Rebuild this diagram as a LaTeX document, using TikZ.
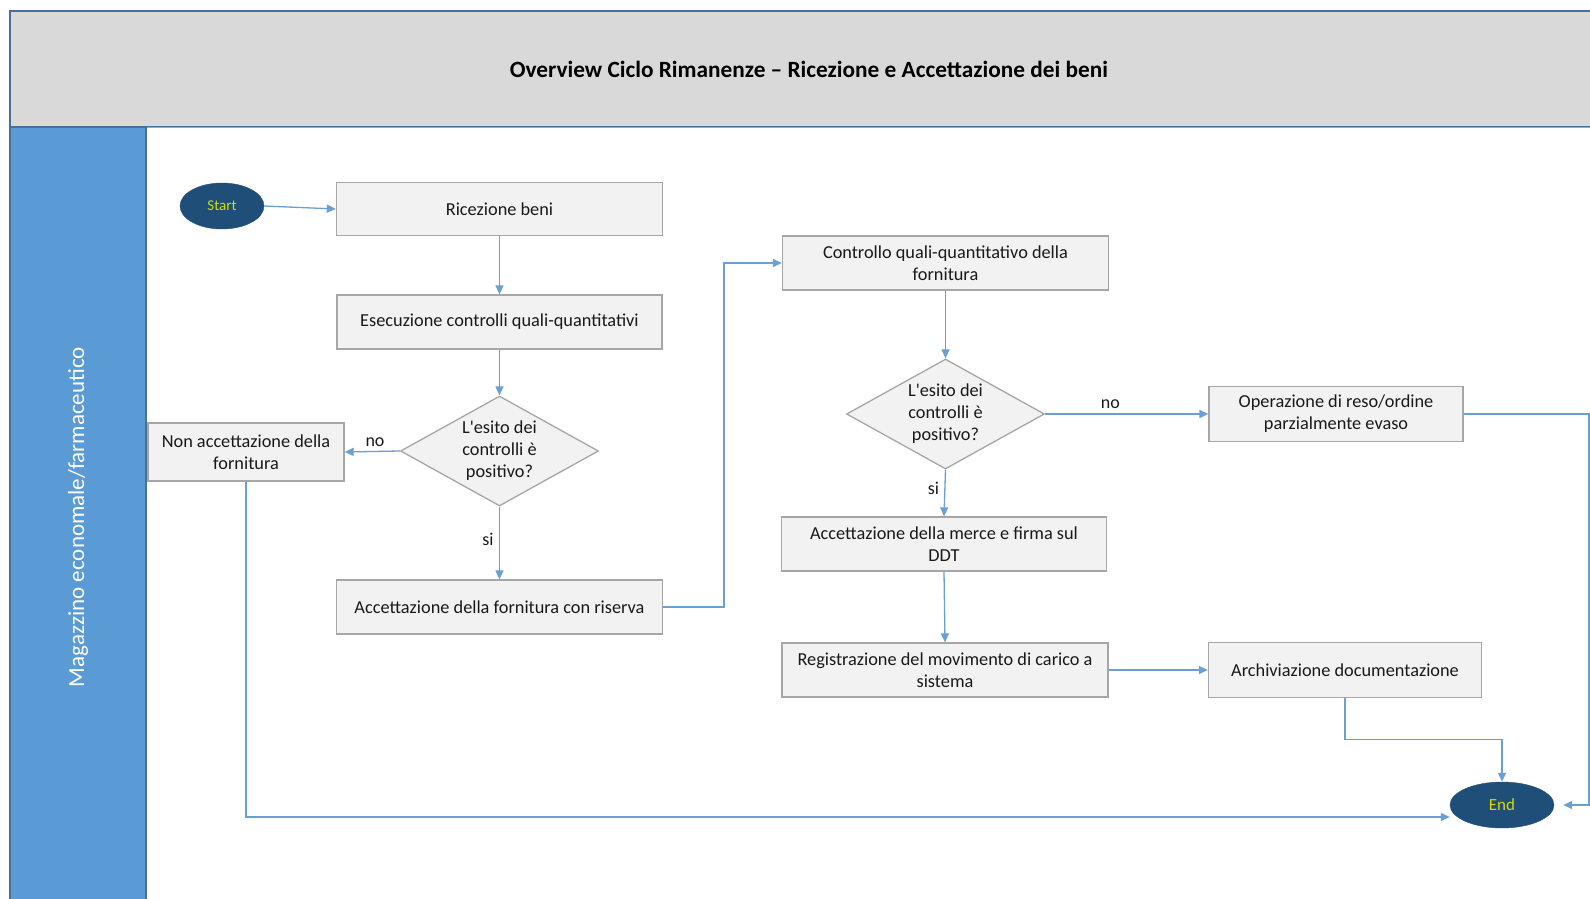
\documentclass[tikz,border=0pt]{standalone}
\usepackage{fontspec}
\setmainfont{Carlito}
\usetikzlibrary{shapes.geometric,arrows.meta,calc}
\definecolor{hdr}{HTML}{D9D9D9}
\definecolor{hdrline}{HTML}{4A6E96}
\definecolor{lane}{HTML}{5B9BD5}
\definecolor{boxfill}{HTML}{F2F2F2}
\definecolor{boxline}{HTML}{A6A6A6}
\definecolor{conn}{HTML}{6A9FD4}
\definecolor{term}{HTML}{1F4E79}
\definecolor{termtxt}{HTML}{D4DC00}
\begin{document}
\begin{tikzpicture}[x=1pt,y=-1pt,
  every node/.style={font=\fontsize{18.3}{22}\selectfont, text=black!90},
  pbox/.style={draw=boxline, fill=boxfill, line width=1.3pt, align=center, inner sep=0pt},
  dia/.style={diamond, draw=boxline, fill=boxfill, line width=1.3pt, minimum width=198pt, minimum height=110pt, inner sep=0pt},
  term/.style={ellipse, fill=term, draw=term, inner sep=0pt},
  conn/.style={draw=conn, line width=1.3pt, -{Triangle[length=9pt,width=8pt]}},
  lbl/.style={font=\fontsize{18}{20}\selectfont}
]
\useasboundingbox (0,0) rectangle (1590,899);
\clip (0,0) rectangle (1590,899);
\fill[white] (0,0) rectangle (1590,899);
% header
\draw[fill=hdr, draw=hdrline, line width=1.5pt] (10,11) rectangle (1600,127);
\draw[boxline, line width=1pt] (146,127) -- (1600,127);
\node[font=\bfseries\fontsize{23.3}{26}\selectfont, text=black] (title) at (809,69) {Overview Ciclo Rimanenze – Ricezione e Accettazione dei beni};
% lane
\draw[fill=lane, draw=hdrline, line width=1.5pt] (10,127) rectangle (146,905);
\node[rotate=90, text=white, font=\fontsize{23}{26}\selectfont] (lanetxt) at (78,517) {Magazzino economale/farmaceutico};

% nodes
\node[term, minimum width=84pt, minimum height=46pt] (start) at (222,206) {};
\node[text=termtxt, font=\fontsize{15}{17}\selectfont] (startt) at (start) {Start};
\node[pbox, minimum width=326pt, minimum height=53pt] (ric) at (499.5,209) {Ricezione beni};
\node[pbox, minimum width=325pt, minimum height=54pt] (ese) at (499.5,322) {Esecuzione controlli quali-quantitativi};
\node[dia] (d1) at (499.5,451) {};
\node (d1t) at (d1) [align=center] {L\textquotesingle esito dei\\controlli è\\positivo?};
\node[pbox, minimum width=196pt, minimum height=58pt] (non) at (246,452) {Non accettazione della\\fornitura};
\node[pbox, minimum width=326pt, minimum height=54pt] (ris) at (499.5,607) {Accettazione della fornitura con riserva};
\node[pbox, minimum width=326pt, minimum height=54pt] (ctrl) at (945.5,263) {Controllo quali-quantitativo della\\fornitura};
\node[dia] (d2) at (945.5,414) {};
\node (d2t) at (d2) [align=center] {L\textquotesingle esito dei\\controlli è\\positivo?};
\node[pbox, minimum width=254pt, minimum height=55pt] (op) at (1336,414) {Operazione di reso/ordine\\parzialmente evaso};
\node[pbox, minimum width=325pt, minimum height=54pt] (acc) at (944,544) {Accettazione della merce e firma sul\\DDT};
\node[pbox, minimum width=326pt, minimum height=54pt] (reg) at (945,670) {Registrazione del movimento di carico a\\sistema};
\node[pbox, minimum width=273pt, minimum height=55pt] (arc) at (1345,670) {Archiviazione documentazione};
\node[term, minimum width=104pt, minimum height=46pt] (end) at (1502,805) {};
\node[text=termtxt, font=\fontsize{17}{19}\selectfont] (endt) at (end) {End};

\coordinate (j1) at (724,598);
\coordinate (j2) at (1589,805);

% connectors
\draw[conn] (start.east) -- (ric.west);
\draw[conn] (ric.south) -- (ese.north);
\draw[conn] (ese.south) -- (d1.north);
\draw[conn] (d1.west) -- node[lbl, above=1pt, pos=0.45] (no1) {no} (non.east);
\draw[conn] (d1.south) -- node[lbl, left=2pt, pos=0.45] (si1) {si} (ris.north);
\draw[conn] (ris.east) -- (ris.east -| j1) |- (ctrl.west);
\draw[conn] (ctrl.south) -- (d2.north);
\draw[conn] (d2.east) -- node[lbl, above=1pt, pos=0.4] (no2) {no} (op.west);
\draw[conn] (d2.south) -- node[lbl, left=2pt, pos=0.4] (si2) {si} (acc.north);
\draw[conn] (acc.south) -- (reg.north);
\draw[conn] (reg.east) -- (arc.west);
\draw[conn] (arc.south) -- ++(0,41) -| (end.north);
\draw[conn] (op.east) -| (j2) -- ([xshift=9pt]end.east);
\draw[conn] (non.south) |- ([yshift=-12pt]end.west);
\end{tikzpicture}
\end{document}
